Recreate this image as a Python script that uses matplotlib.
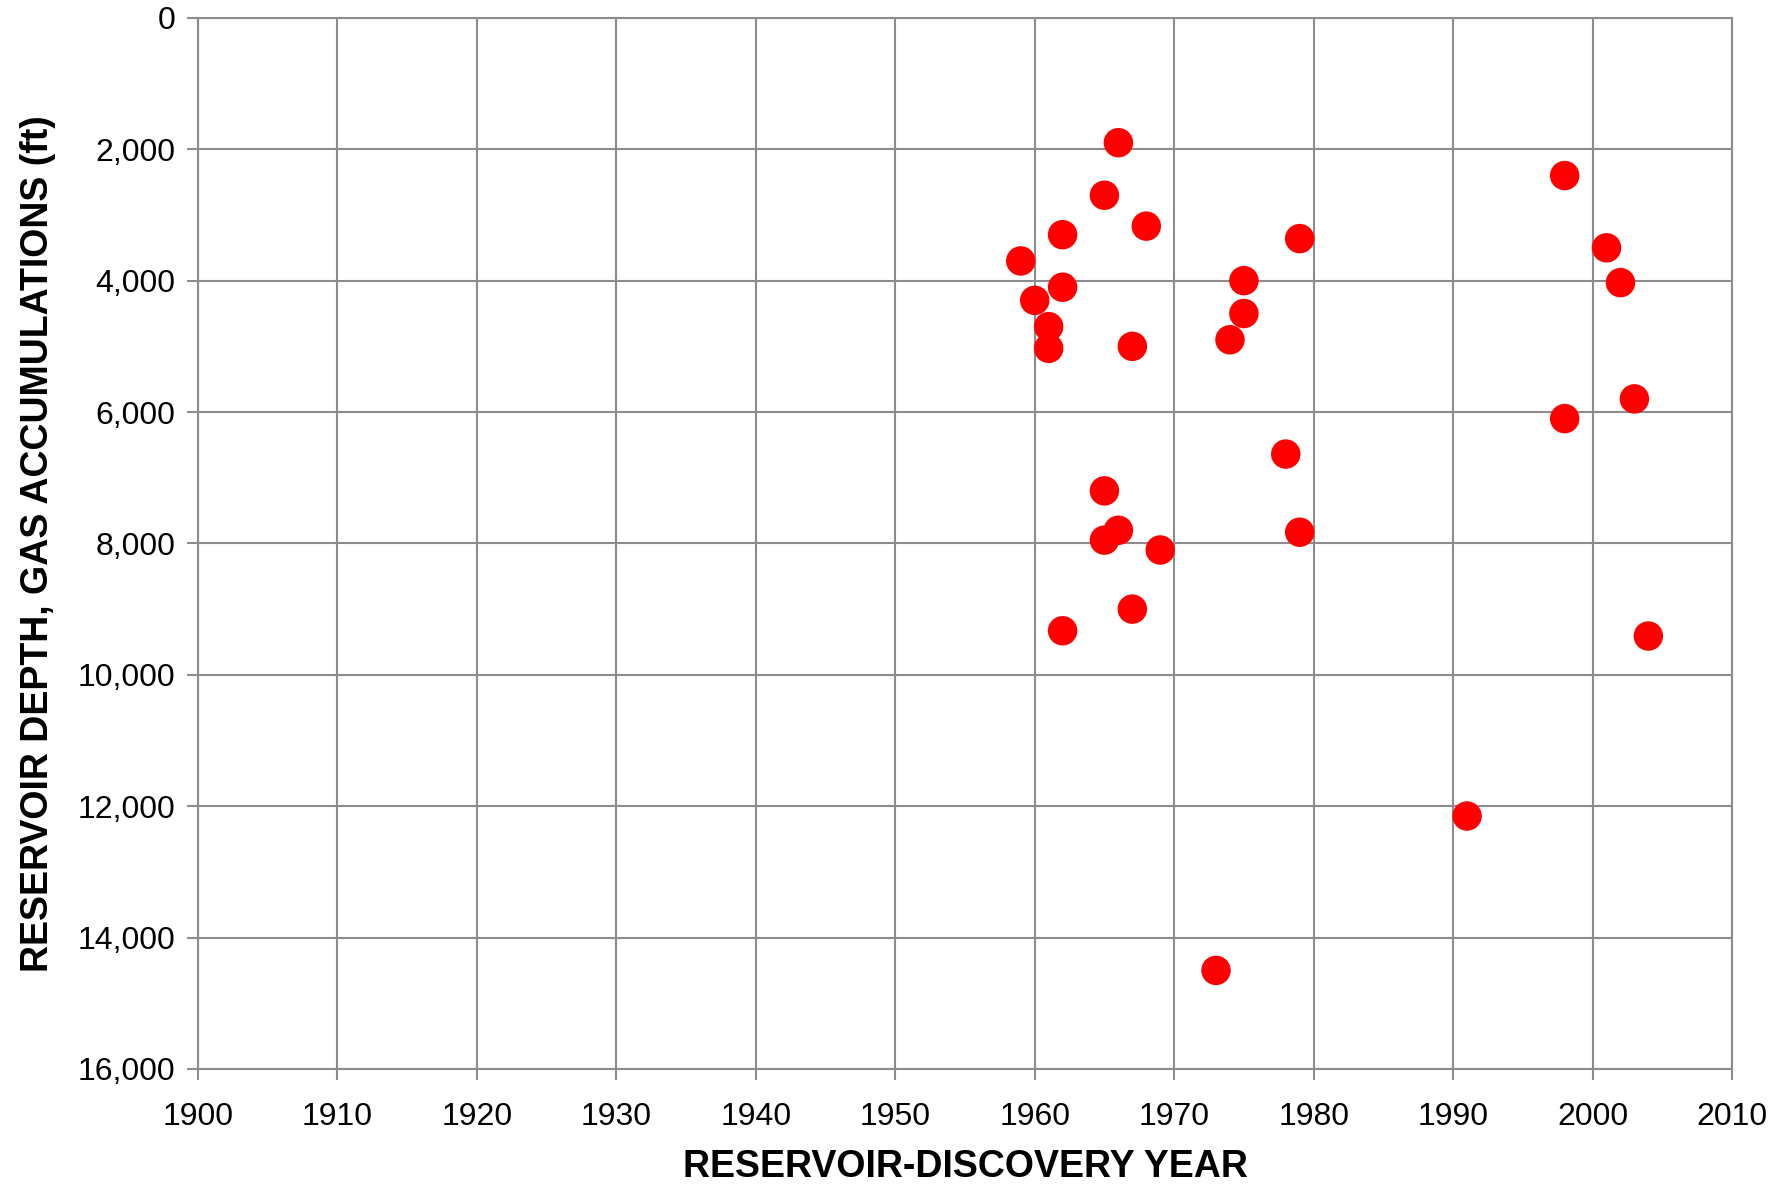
import matplotlib
matplotlib.use("Agg")
from matplotlib import pyplot as plt
from matplotlib.ticker import FuncFormatter

plt.rcParams['font.family'] = ['Liberation Sans', 'DejaVu Sans']

# Год открытия и глубина залежи (ft)
years = [1959, 1960, 1961, 1961, 1962, 1962, 1962, 1965, 1965, 1965,
         1966, 1966, 1967, 1967, 1968, 1969, 1973, 1974, 1975, 1975,
         1978, 1979, 1979, 1991, 1998, 1998, 2001, 2002, 2003, 2004]
depths = [3700, 4300, 4700, 5030, 3300, 4100, 9330, 2700, 7200, 7950,
          1900, 7800, 5000, 9000, 3170, 8100, 14500, 4900, 4000, 4500,
          6640, 3360, 7830, 12150, 2400, 6100, 3500, 4030, 5800, 9410]

x_ticks = list(range(1900, 2011, 10))
y_ticks = list(range(0, 16001, 2000))

fig = plt.figure(figsize=(17.75, 11.93), dpi=100)
ax = fig.add_axes([0.1115, 0.104, 0.8643, 0.881])

ax.scatter(years, depths, s=450, color='#ff0000', edgecolors='none', zorder=3)

ax.set_xlim(1900, 2010)
ax.set_ylim(16000, 0)
ax.set_xticks(x_ticks)
ax.set_yticks(y_ticks)
ax.yaxis.set_major_formatter(FuncFormatter(lambda v, p: f'{int(v):,}'))

ax.grid(True, color='#8c8c8c', linewidth=1.5)
ax.set_axisbelow(True)
for s in ax.spines.values():
    s.set_color('#8c8c8c')
    s.set_linewidth(1.5)
ax.tick_params(direction='out', length=8, width=1.5, color='#8c8c8c',
               labelsize=23)
ax.tick_params(axis='x', pad=16)
ax.tick_params(axis='y', pad=8)

ax.set_xlabel('RESERVOIR-DISCOVERY YEAR', fontsize=27, fontweight='bold', labelpad=12)
ax.set_ylabel('RESERVOIR DEPTH, GAS ACCUMULATIONS (ft)', fontsize=27,
              fontweight='bold', labelpad=16)

fig.savefig('out.png', dpi=100)
